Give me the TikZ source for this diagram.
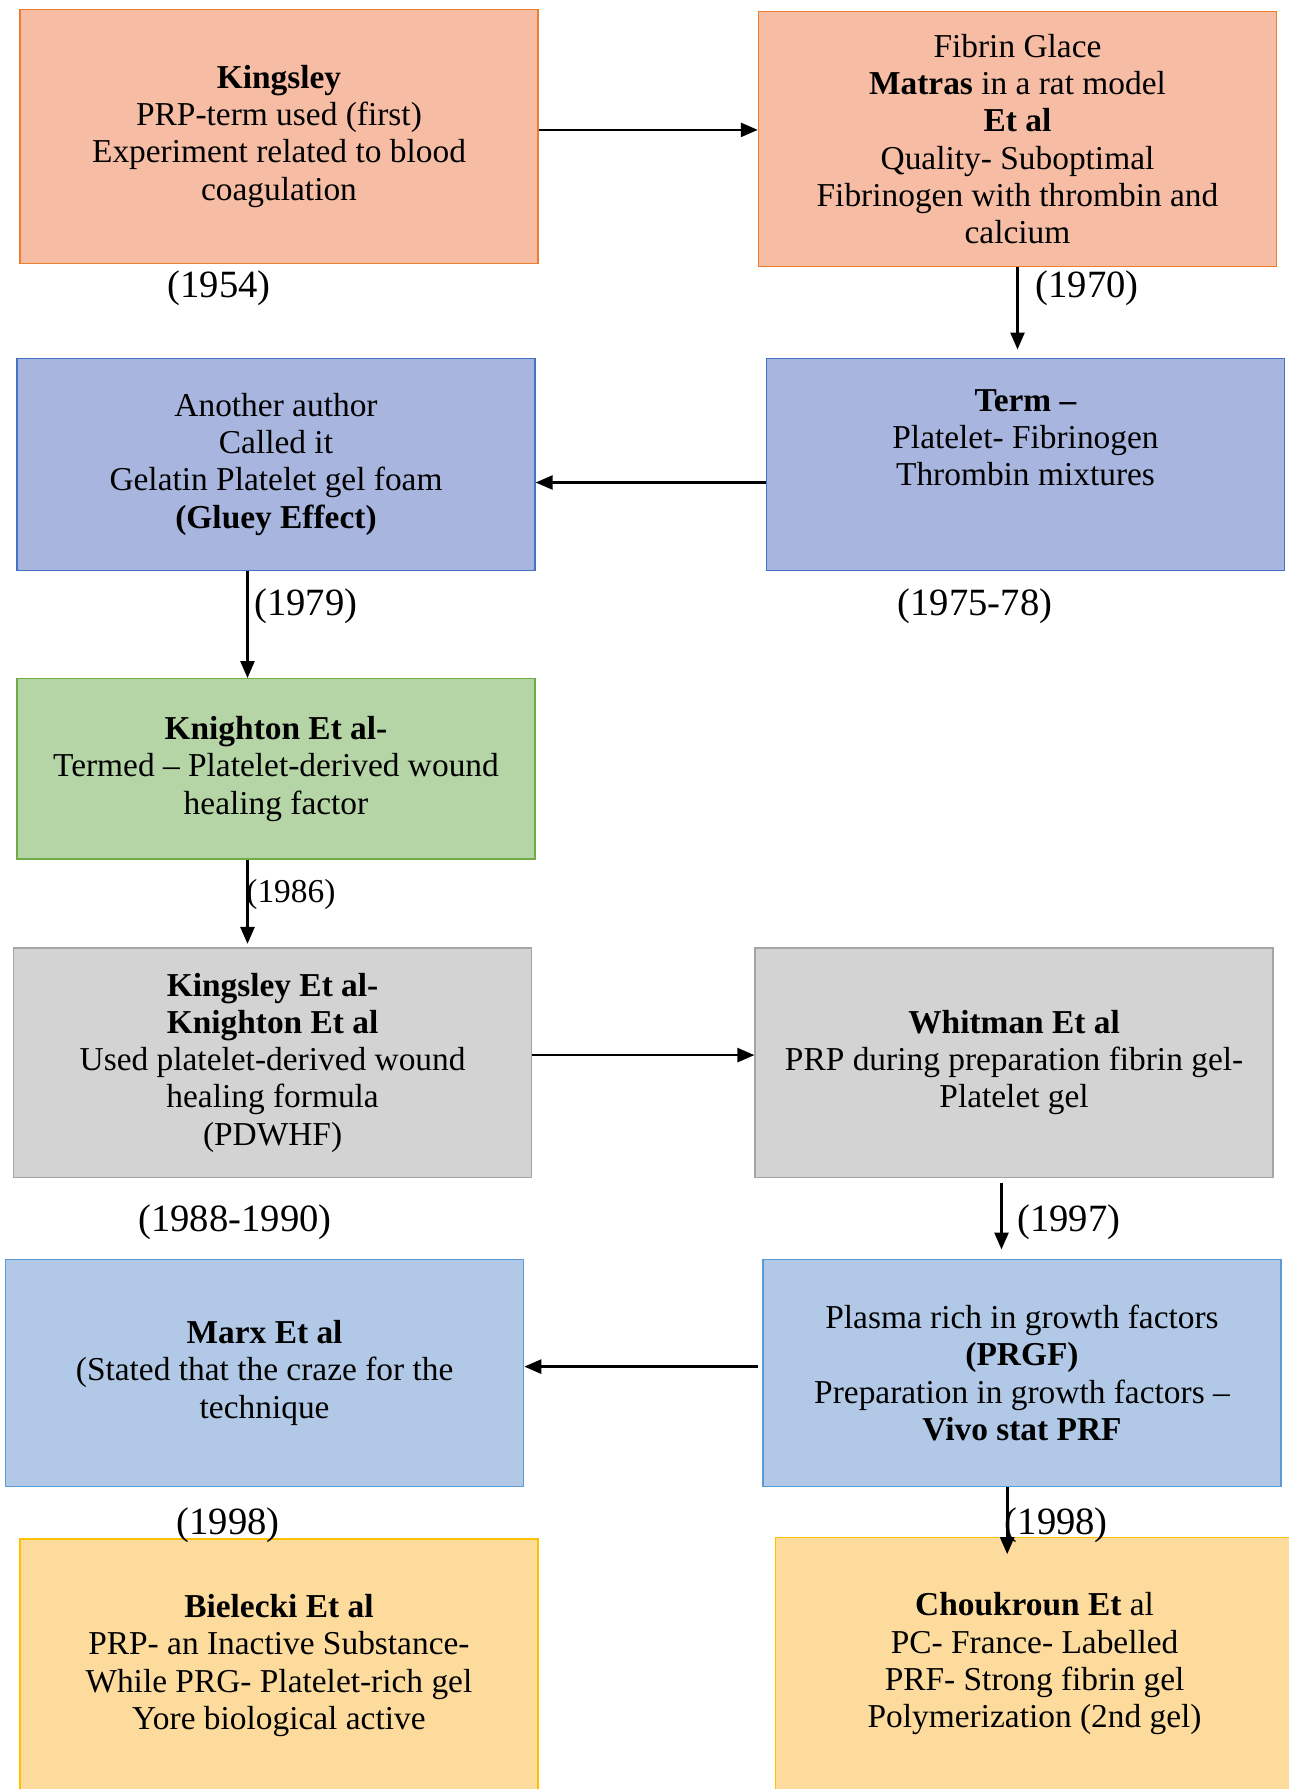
\documentclass[tikz,border=0pt]{standalone}
\usepackage{fontspec}
\setmainfont{Liberation Serif}
\usetikzlibrary{arrows.meta}

\definecolor{peachfill}{HTML}{F6BCA4}
\definecolor{peachline}{HTML}{ED7D31}
\definecolor{lavfill}{HTML}{A8B6DF}
\definecolor{lavline}{HTML}{4472C4}
\definecolor{sagefill}{HTML}{B5D5A6}
\definecolor{sageline}{HTML}{70AD47}
\definecolor{greyfill}{HTML}{D3D3D3}
\definecolor{greyline}{HTML}{A5A5A5}
\definecolor{skyfill}{HTML}{B1C9E7}
\definecolor{skyline}{HTML}{5B9BD5}
\definecolor{goldfill}{HTML}{FDDB9D}
\definecolor{goldline}{HTML}{FFC000}

\newcommand{\cardfont}{\fontsize{16.7}{18.6}\selectfont}
\newcommand{\yearfont}{\fontsize{19.3}{22}\selectfont}

\tikzset{
  card/.style={draw, line width=0.7pt, minimum width=259pt, inner sep=0pt,
               align=center, font=\cardfont},
  peach/.style={card, fill=peachfill, draw=peachline},
  lav/.style={card, fill=lavfill, draw=lavline},
  sage/.style={card, fill=sagefill, draw=sageline},
  grey/.style={card, fill=greyfill, draw=greyline},
  sky/.style={card, fill=skyfill, draw=skyline},
  gold/.style={card, fill=goldfill, draw=goldline},
  cardtext/.style={inner sep=0pt, align=center, font=\cardfont},
  year/.style={inner sep=0pt, font=\yearfont},
  smallyear/.style={inner sep=0pt, font=\cardfont},
  arr/.style={line width=1.3pt, -{Triangle[length=8.5pt,width=7pt]}}
}

\begin{document}
\begin{tikzpicture}[x=0.5pt, y=-0.5pt]
  \useasboundingbox (0,0) rectangle (1289,1789);
  \clip (0,0) rectangle (1289,1789);
  \fill[white] (0,0) rectangle (1289,1789);

  % row 1
  \node[peach, minimum height=127pt] (B1) at (279,136.3)
    {\textbf{Kingsley}\\PRP-term used (first)\\Experiment related to blood\\coagulation};
  \node[peach, minimum height=127.75pt] (B2) at (1017.5,139)
    {Fibrin Glace\\\textbf{Matras} in a rat model\\\textbf{Et al}\\Quality- Suboptimal\\Fibrinogen with thrombin and\\calcium};

  % row 2
  \node[lav, minimum height=106.1pt] (B3) at (1025.5,464.3) {};
  \node[cardtext] (B3t) at ([yshift=13.4pt]B3.center)
    {\textbf{Term –}\\Platelet- Fibrinogen\\Thrombin mixtures};
  \node[lav, minimum height=106.1pt] (B4) at (276,464.3)
    {Another author\\Called it\\Gelatin Platelet gel foam\\\textbf{(Gluey Effect)}};

  % row 3
  \node[sage, minimum height=90.15pt] (B5) at (276,768.9)
    {\textbf{Knighton Et al-}\\Termed – Platelet-derived wound\\healing factor};

  % row 4
  \node[grey, minimum height=114.6pt] (B6) at (272.6,1062.6)
    {\textbf{Kingsley Et al-}\\\textbf{Knighton Et al}\\Used platelet-derived wound\\healing formula\\(PDWHF)};
  \node[grey, minimum height=114.6pt] (B7) at (1014.1,1062.6)
    {\textbf{Whitman Et al}\\PRP during preparation fibrin gel-\\Platelet gel};

  % row 5
  \node[sky, minimum height=113.5pt] (B8) at (1022,1372.9)
    {Plasma rich in growth factors\\\textbf{(PRGF)}\\Preparation in growth factors –\\\textbf{Vivo stat PRF}};
  \node[sky, minimum height=113.5pt] (B9) at (264.6,1372.9)
    {\textbf{Marx Et al}\\(Stated that the craze for the\\technique};

  % row 6
  \node[gold, minimum height=126.5pt] (B10) at (278.9,1665.5)
    {\textbf{Bielecki Et al}\\PRP- an Inactive Substance-\\While PRG- Platelet-rich gel\\Yore biological active};
  \node[gold, minimum height=126pt] (B11) at (1034.6,1663.7)
    {\textbf{Choukroun Et} al\\PC- France- Labelled\\PRF- Strong fibrin gel\\Polymerization (2nd gel)};

  % connectors
  \draw[arr] ([yshift=3.2pt]B1.east) -- ([yshift=3.2pt]B1.east -| B2.west);
  \draw[arr, shorten >=4pt] (B2.south) -- (B2.south |- B3.north);
  \draw[arr] ([yshift=-9.1pt]B3.west) -- ([yshift=-9.1pt]B3.west -| B4.east);
  \draw[arr] ([xshift=-14.25pt]B4.south) -- ([xshift=-14.25pt]B4.south |- B5.north);
  \draw[arr, shorten >=1.7pt] ([xshift=-14.25pt]B5.south) -- ([xshift=-14.25pt]B5.south |- B6.north);
  \draw[arr] ([yshift=3.75pt]B6.east) -- ([yshift=3.75pt]B6.east -| B7.west);
  \draw[arr, shorten <=2.3pt, shorten >=4.6pt] ([xshift=-6.3pt]B7.south) -- ([xshift=-6.3pt]B7.south |- B8.north);
  \draw[arr, shorten <=2.3pt] ([yshift=3.15pt]B8.west) -- ([yshift=3.15pt]B8.west -| B9.east);
  \draw[arr, shorten >=-8.6pt] ([xshift=-7.4pt]B8.south) -- ([xshift=-7.4pt]B8.south |- B11.north);

  % years
  \node[year] (Y1954) at (219,288.4) {(1954)};
  \node[year] (Y1970) at (1087,288.4) {(1970)};
  \node[year] (Y1975) at (975,606.4) {(1975-78)};
  \node[year] (Y1979) at (305.7,606.4) {(1979)};
  \node[smallyear] (Y1986) at (290.9,894.4) {(1986)};
  \node[year] (Y1988) at (235,1222.4) {(1988-1990)};
  \node[year] (Y1997) at (1068.8,1222.4) {(1997)};
  \node[year] (Y1998a) at (228,1525.1) {(1998)};
  \node[year] (Y1998b) at (1056.3,1525.1) {(1998)};
\end{tikzpicture}
\end{document}
